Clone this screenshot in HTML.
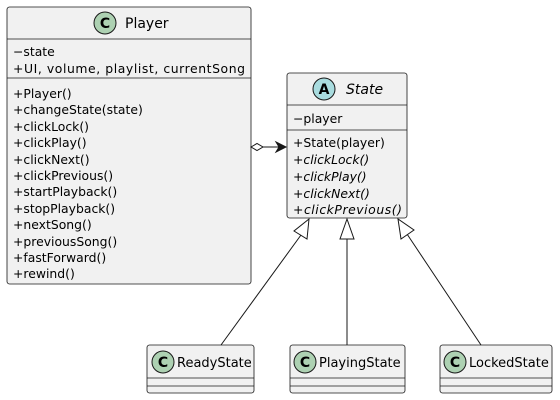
<!DOCTYPE html>
<html><head><meta charset="utf-8"><style>
body{margin:0;background:#fff}
svg{display:block}
text{font-family:"DejaVu Sans","Liberation Sans",sans-serif;font-size:12.4px;fill:#000}
</style></head><body>
<svg width="560" height="400" viewBox="0 0 560 400">
<defs>
<g id="c"><circle r="11" fill="#ADD1B2" stroke="#181818" stroke-width="1"/><text x="0" y="5" text-anchor="middle" style="font-size:14px;font-weight:bold">C</text></g>
</defs>
<rect x="7" y="7" width="244" height="277" rx="2.5" fill="#F1F1F1" stroke="#181818" stroke-width="0.8"/>
<line x1="7" y1="39" x2="251" y2="39" stroke="#181818" stroke-width="0.8"/>
<line x1="7" y1="78" x2="251" y2="78" stroke="#181818" stroke-width="0.8"/>
<use href="#c" x="105" y="23"/>
<text x="125" y="28" style="font-size:14px">Player</text>
<text x="13" y="56">−state</text>
<text x="13" y="73" textLength="232">+UI, volume, playlist, currentSong</text>
<g>
<text x="13" y="98">+Player()</text>
<text x="13" y="114">+changeState(state)</text>
<text x="13" y="131">+clickLock()</text>
<text x="13" y="147">+clickPlay()</text>
<text x="13" y="164">+clickNext()</text>
<text x="13" y="180">+clickPrevious()</text>
<text x="13" y="196">+startPlayback()</text>
<text x="13" y="213">+stopPlayback()</text>
<text x="13" y="229">+nextSong()</text>
<text x="13" y="246">+previousSong()</text>
<text x="13" y="262">+fastForward()</text>
<text x="13" y="278">+rewind()</text>
</g>
<rect x="287" y="73" width="120" height="145" rx="2.5" fill="#F1F1F1" stroke="#181818" stroke-width="0.8"/>
<line x1="287" y1="105" x2="407" y2="105" stroke="#181818" stroke-width="0.8"/>
<line x1="287" y1="130" x2="407" y2="130" stroke="#181818" stroke-width="0.8"/>
<circle cx="324" cy="89" r="11" fill="#A9DCDF" stroke="#181818" stroke-width="1"/>
<text x="324" y="94" text-anchor="middle" style="font-size:14px;font-weight:bold">A</text>
<text x="346" y="94" style="font-size:14px;font-style:italic">State</text>
<text x="293" y="123">−player</text>
<text x="293" y="147">+State(player)</text>
<text x="293" y="164" font-style="italic">+clickLock()</text>
<text x="293" y="181" font-style="italic">+clickPlay()</text>
<text x="293" y="198" font-style="italic">+clickNext()</text>
<text x="293" y="214" font-style="italic" textLength="109">+clickPrevious()</text>
<polygon points="251,147 257,143.5 263,147 257,150.5" fill="#fff" stroke="#181818"/>
<line x1="263" y1="147" x2="286" y2="147" stroke="#181818"/>
<polygon points="276,142 286,147 276,152 279,147" fill="#181818" stroke="#181818"/>
<rect x="147" y="345" width="107" height="48" rx="2.5" fill="#F1F1F1" stroke="#181818" stroke-width="0.8"/>
<line x1="147" y1="378" x2="254" y2="378" stroke="#181818" stroke-width="0.8"/>
<line x1="147" y1="386" x2="254" y2="386" stroke="#181818" stroke-width="0.8"/>
<use href="#c" x="163" y="362"/>
<text x="177" y="367" style="font-size:13px">ReadyState</text>
<rect x="290" y="345" width="115" height="48" rx="2.5" fill="#F1F1F1" stroke="#181818" stroke-width="0.8"/>
<line x1="290" y1="378" x2="405" y2="378" stroke="#181818" stroke-width="0.8"/>
<line x1="290" y1="386" x2="405" y2="386" stroke="#181818" stroke-width="0.8"/>
<use href="#c" x="305" y="362"/>
<text x="319" y="367" style="font-size:13px">PlayingState</text>
<rect x="440" y="345" width="112" height="48" rx="2.5" fill="#F1F1F1" stroke="#181818" stroke-width="0.8"/>
<line x1="440" y1="378" x2="552" y2="378" stroke="#181818" stroke-width="0.8"/>
<line x1="440" y1="386" x2="552" y2="386" stroke="#181818" stroke-width="0.8"/>
<use href="#c" x="455" y="362"/>
<text x="469" y="367" style="font-size:13px">LockedState</text>
<line x1="221" y1="345" x2="301" y2="235" stroke="#181818"/>
<polygon points="309,219 307,239 294,231" fill="#fff" stroke="#181818"/>
<line x1="347" y1="345" x2="347" y2="239" stroke="#181818"/>
<polygon points="347,219 340,239 354,239" fill="#fff" stroke="#181818"/>
<line x1="481" y1="345" x2="407" y2="234" stroke="#181818"/>
<polygon points="398,219 401,239 414,230" fill="#fff" stroke="#181818"/>
</svg>
</body></html>
